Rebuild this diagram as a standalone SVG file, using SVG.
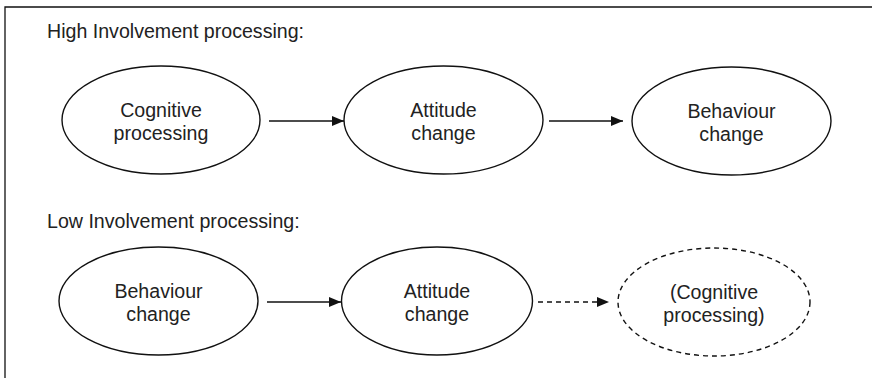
<svg xmlns="http://www.w3.org/2000/svg" width="872" height="378" viewBox="0 0 872 378">
  <style>
    .frame { fill: none; stroke: #111; stroke-width: 1.3; }
    .node { fill: #fff; stroke: #111; stroke-width: 1.4; }
    .node.dashed { stroke-dasharray: 5 4; }
    .label { font-family: "Liberation Sans", Arial, sans-serif; font-size: 19.6px; fill: #222; }
    .title { font-family: "Liberation Sans", Arial, sans-serif; font-size: 19.6px; fill: #222; }
    .edge { stroke: #111; stroke-width: 1.4; fill: none; marker-end: url(#arrow); }
    .edge.dashed { stroke-dasharray: 5 4; }
  </style>
  <defs>
    <marker id="arrow" viewBox="0 0 12 10" refX="12" refY="5" markerWidth="12" markerHeight="10" markerUnits="userSpaceOnUse" orient="auto">
      <path d="M0,0 L12,5 L0,10 Z" fill="#111"/>
    </marker>
  </defs>

  <rect width="872" height="378" fill="#fff"/>

  <!-- open frame: top and left edges only -->
  <path class="frame" d="M872,7 H5 V378"/>

  <text class="title" x="47" y="38">High Involvement processing:</text>
  <text class="title" x="47" y="228">Low Involvement processing:</text>

  <!-- high involvement row -->
  <g id="hi-cognitive">
    <ellipse class="node" cx="161" cy="120" rx="99" ry="54"/>
    <text class="label" text-anchor="middle" x="161" y="117">Cognitive</text>
    <text class="label" text-anchor="middle" x="161" y="140">processing</text>
  </g>
  <g id="hi-attitude">
    <ellipse class="node" cx="443.5" cy="120" rx="99.5" ry="54"/>
    <text class="label" text-anchor="middle" x="443.5" y="117">Attitude</text>
    <text class="label" text-anchor="middle" x="443.5" y="140">change</text>
  </g>
  <g id="hi-behaviour">
    <ellipse class="node" cx="731.5" cy="121" rx="99.5" ry="54"/>
    <text class="label" text-anchor="middle" x="731.5" y="118">Behaviour</text>
    <text class="label" text-anchor="middle" x="731.5" y="141">change</text>
  </g>

  <!-- low involvement row -->
  <g id="lo-behaviour">
    <ellipse class="node" cx="158.5" cy="301" rx="99.5" ry="54"/>
    <text class="label" text-anchor="middle" x="158.5" y="298">Behaviour</text>
    <text class="label" text-anchor="middle" x="158.5" y="321">change</text>
  </g>
  <g id="lo-attitude">
    <ellipse class="node" cx="437" cy="301" rx="95.5" ry="54"/>
    <text class="label" text-anchor="middle" x="437" y="298">Attitude</text>
    <text class="label" text-anchor="middle" x="437" y="321">change</text>
  </g>
  <g id="lo-cognitive">
    <ellipse class="node dashed" cx="714" cy="302" rx="96" ry="54"/>
    <text class="label" text-anchor="middle" x="714" y="299">(Cognitive</text>
    <text class="label" text-anchor="middle" x="714" y="322">processing)</text>
  </g>

  <g id="connectors">
    <line class="edge" x1="269" y1="121" x2="344" y2="121"/>
    <line class="edge" x1="549" y1="121" x2="623" y2="121"/>
    <line class="edge" x1="267" y1="302" x2="341" y2="302"/>
    <line class="edge dashed" x1="538" y1="302" x2="609" y2="302"/>
  </g>
</svg>
